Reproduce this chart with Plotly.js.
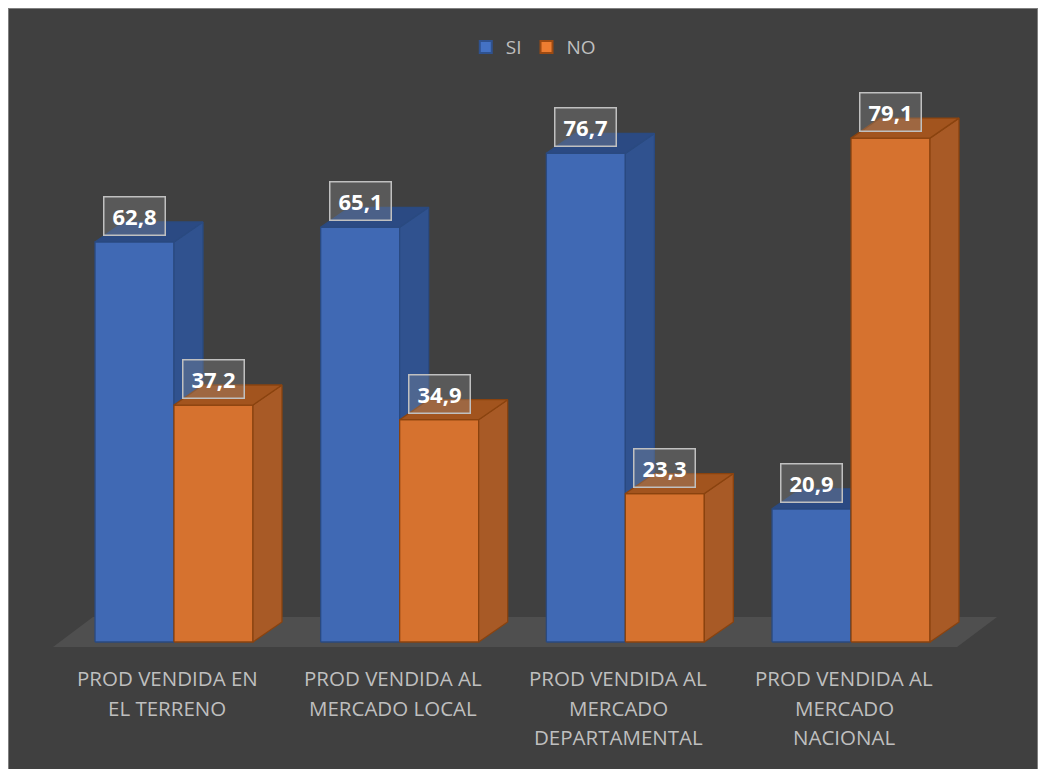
<!DOCTYPE html>
<html>
<head>
<meta charset="utf-8">
<script src="https://cdn.plot.ly/plotly-3.0.1.min.js"></script>
<style>
  html, body { margin: 0; padding: 0; background: #ffffff; }
  #wrap { position: absolute; left: 8px; top: 8px; width: 1028px; height: 761px;
          border-left: 1px solid #7f7f7f; border-top: 1px solid #7f7f7f; border-right: 1px solid #7f7f7f;
          background: #404040; overflow: hidden; }
  #chart { width: 1028px; height: 761px; }
</style>
</head>
<body>
<div id="wrap"><div id="chart"></div></div>
<script>
// ---- data ----
const categories = [
  'PROD VENDIDA EN<br>EL TERRENO',
  'PROD VENDIDA AL<br>MERCADO LOCAL',
  'PROD VENDIDA AL<br>MERCADO<br>DEPARTAMENTAL',
  'PROD VENDIDA AL<br>MERCADO<br>NACIONAL'
];
const seriesNames = ['SI', 'NO'];
const siValues = [62.8, 65.1, 76.7, 20.9];
const noValues = [37.2, 34.9, 23.3, 79.1];

// ---- styling / geometry constants ----
const BW = 0.35;      // bar width (category units)
const DX = 0.1285;    // depth offset x
const DY = 3.14;      // depth offset y (value units)
const styles = [
  {front: '#4069b4', side: '#30528f', top: '#2b4a83', line: '#2a4a80', legend: '#4472c4', legendLine: '#2f528f'},
  {front: '#d6722f', side: '#a85a26', top: '#a2541e', line: '#8a430f', legend: '#ed7d31', legendLine: '#9c4a12'}
];

function fmt(v) { return v.toFixed(1).replace('.', ','); }

function facePolys(vals, offset) {
  const fr = {x: [], y: []}, sd = {x: [], y: []}, tp = {x: [], y: []};
  vals.forEach((v, i) => {
    const x1 = i + offset, x2 = x1 + BW;
    fr.x.push(x1, x2, x2, x1, x1, null); fr.y.push(0, 0, v, v, 0, null);
    sd.x.push(x2, x2 + DX, x2 + DX, x2, x2, null); sd.y.push(0, DY, v + DY, v, 0, null);
    tp.x.push(x1, x2, x2 + DX, x1 + DX, x1, null); tp.y.push(v, v, v + DY, v + DY, v, null);
  });
  return {fr, sd, tp};
}

const traces = [];
// floor
const n = categories.length;
traces.push({
  type: 'scatter', mode: 'lines', fill: 'toself', showlegend: false, hoverinfo: 'skip',
  x: [-0.536, n - 0.53, n - 0.353, -0.359, -0.536],
  y: [-0.8, -0.8, 3.93, 3.93, -0.8],
  fillcolor: '#4f4f4f', line: {width: 0, color: 'rgba(0,0,0,0)'}
});

[siValues, noValues].forEach((vals, s) => {
  const offset = s === 0 ? -BW : 0;
  const p = facePolys(vals, offset);
  const st = styles[s];
  [['fr', st.front], ['sd', st.side], ['tp', st.top]].forEach(([k, col]) => {
    traces.push({
      type: 'scatter', mode: 'lines', fill: 'toself', showlegend: false, hoverinfo: 'skip',
      x: p[k].x, y: p[k].y, fillcolor: col, line: {color: st.line, width: 1.3}
    });
  });
});

// legend entries
seriesNames.forEach((name, s) => {
  traces.push({
    type: 'scatter', mode: 'markers', name: name, x: [null], y: [null],
    marker: {symbol: 'square', size: 12, color: styles[s].legend, line: {color: styles[s].legendLine, width: 2}}
  });
});

const annotations = [];
[siValues, noValues].forEach((vals, s) => {
  const offset = s === 0 ? -BW : 0;
  vals.forEach((v, i) => {
    annotations.push({
      x: i + offset + BW / 2, y: v, xref: 'x', yref: 'y', yshift: 26,
      text: '<b>' + fmt(v) + '</b>', showarrow: false,
      font: {family: 'Open Sans, sans-serif', size: 22, color: '#ffffff'},
      bgcolor: 'rgba(150,150,150,0.3)', bordercolor: '#c0c0c0', borderwidth: 1.5,
      borderpad: 3, width: 54, height: 31
    });
  });
});
categories.forEach((c, i) => {
  c.split('<br>').forEach((line, k) => {
    annotations.push({
      x: i - 0.031, y: 0, xref: 'x', yref: 'y', yshift: -36 - 29.5 * k, yanchor: 'middle',
      text: line, showarrow: false,
      font: {family: 'Open Sans, sans-serif', size: 20.5, color: '#bfbfbf'}
    });
  });
});

const layout = {
  width: 1028, height: 761,
  paper_bgcolor: '#404040', plot_bgcolor: 'rgba(0,0,0,0)',
  margin: {l: 20, r: 20, t: 60, b: 111},
  xaxis: {range: [-0.6425, 3.7355], showgrid: false, zeroline: false, showticklabels: false, showline: false, fixedrange: true},
  yaxis: {range: [-2.669, 89.95], showgrid: false, zeroline: false, showticklabels: false, showline: false, fixedrange: true},
  showlegend: true,
  legend: {orientation: 'h', xref: 'container', yref: 'container', x: 0.51, xanchor: 'center', y: 0.95, yanchor: 'middle',
           font: {family: 'Open Sans, sans-serif', size: 19, color: '#bfbfbf'}, bgcolor: 'rgba(0,0,0,0)', itemwidth: 30},
  annotations: annotations
};

Plotly.newPlot('chart', traces, layout, {displayModeBar: false, staticPlot: true});
</script>
</body>
</html>
